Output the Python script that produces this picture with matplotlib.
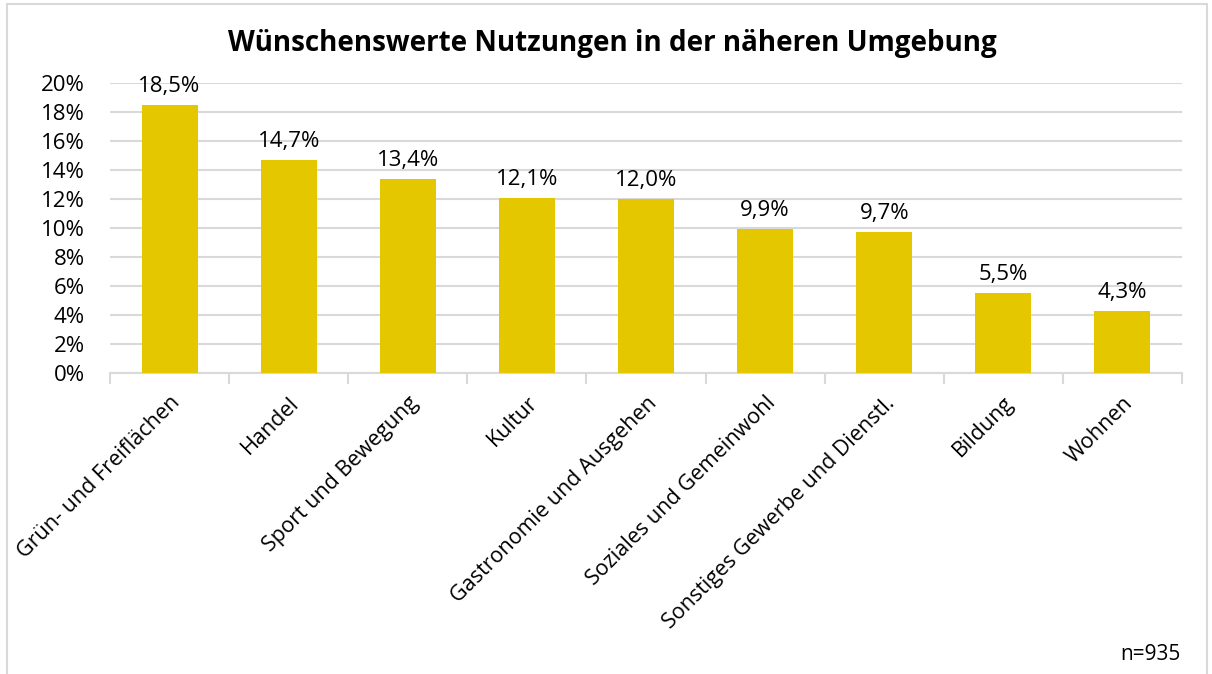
import matplotlib.pyplot as plt
import matplotlib.patches as mpatches
import numpy as np

categories = ['Grün- und Freiflächen', 'Handel', 'Sport und Bewegung', 'Kultur',
              'Gastronomie und Ausgehen', 'Soziales und Gemeinwohl',
              'Sonstiges Gewerbe und Dienstl.', 'Bildung', 'Wohnen']
values = [18.5, 14.7, 13.4, 12.1, 12.0, 9.9, 9.7, 5.5, 4.3]
value_labels = ['18,5%', '14,7%', '13,4%', '12,1%', '12,0%', '9,9%', '9,7%', '5,5%', '4,3%']
yticks = [0, 2, 4, 6, 8, 10, 12, 14, 16, 18, 20]

plt.rcParams['font.family'] = ['Open Sans', 'DejaVu Sans']

W, H = 1212, 674
fig = plt.figure(figsize=(W / 100, H / 100), dpi=100)

# outer frame
fig.patches.append(mpatches.Rectangle((7 / W, -0.05), (1207 - 7) / W, 1.05 - 4 / H,
                                      transform=fig.transFigure, fill=False,
                                      edgecolor='#d9d9d9', linewidth=1.5))

ax = fig.add_axes([110 / W, 1 - 373 / H, (1182 - 110) / W, (373 - 83) / H])
x = np.arange(len(categories))
ax.bar(x, values, width=0.47, color='#E5C700', zorder=3)

for xi, v, lab in zip(x, values, value_labels):
    ax.text(xi, v + 0.55, lab, ha='center', va='bottom', fontsize=16, color='black')

ax.set_xlim(-0.5, len(categories) - 0.5)
ax.set_ylim(0, 20)
ax.set_yticks(yticks)
ax.set_yticklabels([f'{t}%' for t in yticks], fontsize=16)
ax.yaxis.grid(True, color='#d9d9d9', linewidth=1.5, zorder=0)
ax.tick_params(axis='y', length=0, pad=18)

ax.set_xticks(x)
ax.set_xticklabels(categories, rotation=45, ha='right', rotation_mode='anchor', fontsize=15.5)
ax.set_xticks(np.arange(-0.5, len(categories)), minor=True)
ax.tick_params(axis='x', which='major', length=0, pad=14)
ax.tick_params(axis='x', which='minor', length=8, color='#d9d9d9', width=1.5)

for s in ['top', 'right', 'left']:
    ax.spines[s].set_visible(False)
ax.spines['bottom'].set_color('#d9d9d9')
ax.spines['bottom'].set_linewidth(1.5)

fig.text(612 / W, 1 - 44 / H, 'Wünschenswerte Nutzungen in der näheren Umgebung',
         ha='center', va='center', fontsize=20, fontweight='bold')
fig.text(1181 / W, 1 - 655 / H, 'n=935', ha='right', va='center', fontsize=15)

fig.savefig('out.png', dpi=100)
